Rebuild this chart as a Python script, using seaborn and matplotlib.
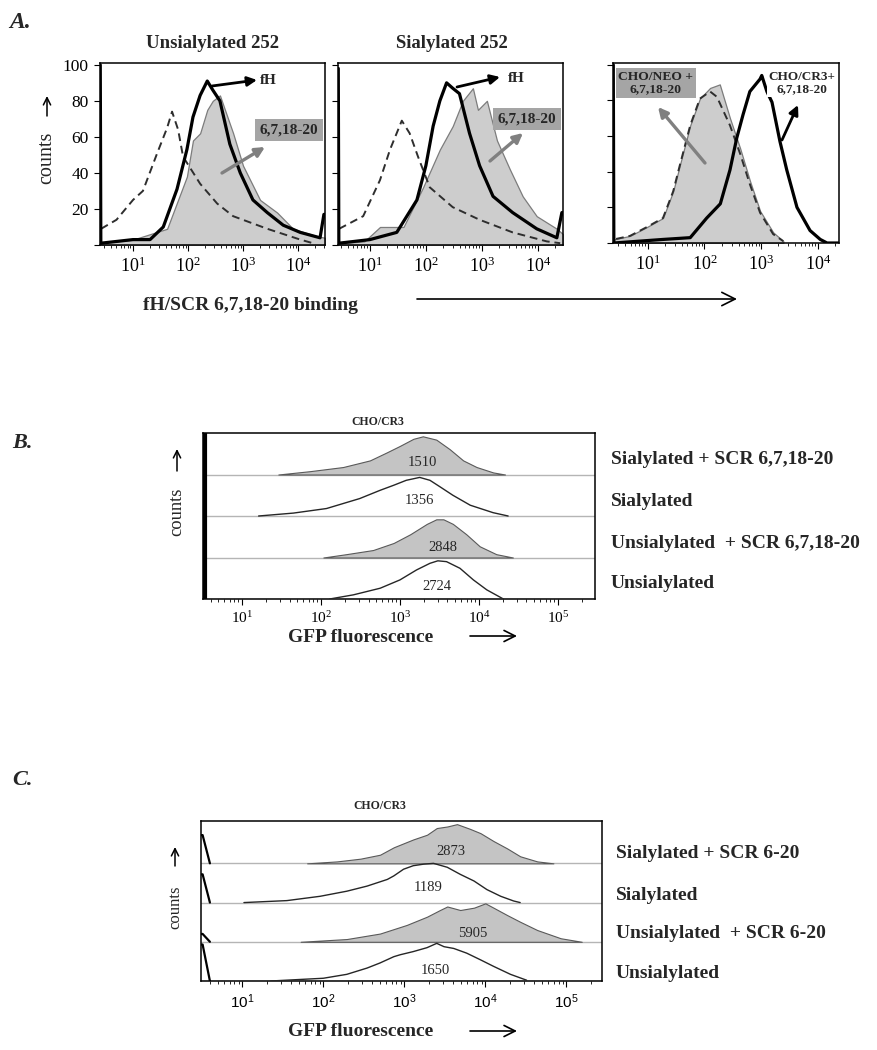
import numpy as np
import matplotlib
matplotlib.use("Agg")
import matplotlib.pyplot as plt
import seaborn as sns
from matplotlib.ticker import LogLocator, NullFormatter

W, H = 877, 1050

# ---------------- Panel A : histograms (log10 fluorescence, counts) ----------------
# Unsialylated 252
a1_ctrl_log = [0.42, 0.7, 1.0, 1.18, 1.44, 1.62, 1.71, 1.82, 1.91, 2.22, 2.53, 2.82, 3.44, 4.04, 4.27]
a1_ctrl_cnt = [9, 14, 25, 30, 51, 65, 74, 64, 49, 34, 23, 16, 9, 3, 1]
a1_fh_log = [0.405, 0.415, 1.0, 1.31, 1.55, 1.8, 1.98, 2.09, 2.22, 2.35, 2.45, 2.58, 2.76, 2.95,
             3.18, 3.44, 3.73, 4.04, 4.40, 4.47, 4.49]
a1_fh_cnt = [100, 1, 3, 3, 10, 31, 53, 71, 83, 91, 86, 80, 56, 40, 25, 18, 11, 7, 4, 17, 17]
a1_scr_log = [0.42, 1.0, 1.62, 1.98, 2.09, 2.22, 2.35, 2.45, 2.58, 2.82, 3.0, 3.31, 3.62, 3.91, 4.33, 4.49]
a1_scr_cnt = [1, 3, 9, 38, 58, 62, 75, 80, 83, 62, 44, 25, 18, 9, 5, 4]

# Sialylated 252
a2_ctrl_log = [0.45, 0.88, 1.18, 1.36, 1.57, 1.71, 1.86, 2.07, 2.48, 2.96, 3.55, 4.16, 4.4]
a2_ctrl_cnt = [9, 16, 36, 53, 69, 62, 49, 32, 21, 14, 7, 2, 1]
a2_fh_log = [0.435, 0.445, 1.0, 1.48, 1.84, 2.0, 2.13, 2.25, 2.37, 2.48, 2.6, 2.78, 2.96, 3.2,
             3.55, 3.98, 4.34, 4.43, 4.45]
a2_fh_cnt = [98, 1, 3, 7, 25, 44, 66, 80, 90, 87, 84, 62, 44, 27, 18, 9, 4, 18, 18]
a2_scr_log = [0.45, 0.9, 1.18, 1.6, 1.95, 2.25, 2.48, 2.66, 2.84, 2.93, 3.09, 3.27, 3.5, 3.73, 3.98, 4.34, 4.45]
a2_scr_cnt = [1, 2, 10, 10, 32, 53, 66, 80, 87, 75, 80, 58, 42, 27, 16, 9, 6]

# CHO/NEO vs CHO/CR3
a3_ctrl_log = [0.395, 0.405, 0.69, 0.99, 1.27, 1.45, 1.57, 1.75, 1.92, 2.1, 2.22, 2.45, 2.63, 2.8, 2.98, 3.21, 3.39]
a3_ctrl_cnt = [100, 2, 4, 9, 14, 29, 44, 66, 81, 85, 82, 66, 50, 33, 17, 5, 1]
a3_scr_log = [0.40, 0.69, 0.99, 1.27, 1.45, 1.57, 1.75, 1.92, 2.1, 2.27, 2.45, 2.63, 2.8, 2.98, 3.21, 3.39]
a3_scr_cnt = [2, 4, 9, 14, 29, 44, 66, 81, 87, 89, 70, 53, 35, 18, 6, 1]
a3_cr3_log = [0.395, 0.405, 1.27, 1.75, 2.04, 2.28, 2.45, 2.57, 2.68, 2.8, 2.98, 3.01, 3.1, 3.19,
              3.33, 3.45, 3.63, 3.86, 4.04, 4.16, 4.37]
a3_cr3_cnt = [100, 0, 2, 3, 14, 22, 41, 59, 72, 85, 92, 94, 85, 79, 57, 41, 20, 7, 2, 0, 0]

# ---------------- Panel B : CHO/CR3 GFP, SCR 6,7,18-20 (relative counts per row) ----------------
b_labels = ["Sialylated + SCR 6,7,18-20", "Sialylated", "Unsialylated  + SCR 6,7,18-20", "Unsialylated"]
b_means = ["1510", "1356", "2848", "2724"]
b_filled = [True, False, True, False]
b1_log = [1.46, 1.86, 2.28, 2.62, 2.83, 3.0, 3.17, 3.29, 3.46, 3.63, 3.8, 3.97, 4.18, 4.33]
b1_rel = [0.0, 0.08, 0.18, 0.34, 0.53, 0.69, 0.86, 0.92, 0.84, 0.61, 0.34, 0.18, 0.05, 0.0]
b2_log = [1.21, 1.65, 2.07, 2.49, 2.75, 2.92, 3.08, 3.25, 3.38, 3.51, 3.67, 3.89, 4.18, 4.37]
b2_rel = [0.0, 0.07, 0.18, 0.42, 0.62, 0.74, 0.86, 0.93, 0.86, 0.70, 0.50, 0.26, 0.08, 0.0]
b3_log = [2.03, 2.32, 2.66, 2.92, 3.13, 3.34, 3.46, 3.55, 3.67, 3.84, 4.01, 4.22, 4.43]
b3_rel = [0.0, 0.08, 0.18, 0.35, 0.56, 0.81, 0.92, 0.92, 0.81, 0.56, 0.27, 0.08, 0.0]
b4_log = [2.11, 2.41, 2.75, 3.0, 3.21, 3.38, 3.48, 3.59, 3.76, 3.93, 4.1, 4.31]
b4_rel = [0.0, 0.10, 0.26, 0.46, 0.70, 0.86, 0.92, 0.90, 0.74, 0.46, 0.22, 0.0]
b_spike_log = 0.535
b_spike_rel = [1.0, 1.0, 1.0, 1.0]

# ---------------- Panel C : CHO/CR3 GFP, SCR 6-20 ----------------
c_labels = ["Sialylated + SCR 6-20", "Sialylated", "Unsialylated  + SCR 6-20", "Unsialylated"]
c_means = ["2873", "1189", "5905", "1650"]
c_filled = [True, False, True, False]
c1_log = [1.80, 2.17, 2.46, 2.70, 2.87, 3.11, 3.28, 3.40, 3.53, 3.65, 3.81, 3.94, 4.10, 4.27, 4.43, 4.64, 4.84]
c1_rel = [0.0, 0.05, 0.12, 0.22, 0.41, 0.61, 0.73, 0.90, 0.94, 1.0, 0.88, 0.77, 0.57, 0.38, 0.18, 0.05, 0.0]
c2_log = [1.02, 1.55, 1.96, 2.29, 2.54, 2.79, 2.87, 2.99, 3.11, 3.24, 3.36, 3.53, 3.69, 3.86, 4.02, 4.19, 4.35, 4.43]
c2_rel = [0.0, 0.05, 0.16, 0.29, 0.42, 0.59, 0.68, 0.85, 0.94, 0.98, 1.0, 0.9, 0.72, 0.55, 0.33, 0.16, 0.04, 0.0]
c3_log = [1.72, 2.29, 2.70, 3.03, 3.28, 3.44, 3.53, 3.69, 3.86, 4.0, 4.10, 4.27, 4.43, 4.64, 4.93, 5.19]
c3_rel = [0.0, 0.07, 0.21, 0.43, 0.64, 0.81, 0.90, 0.81, 0.87, 0.98, 0.87, 0.68, 0.51, 0.30, 0.09, 0.0]
c4_log = [1.35, 2.0, 2.29, 2.54, 2.70, 2.87, 2.95, 3.11, 3.28, 3.40, 3.49, 3.61, 3.77, 3.94, 4.10, 4.31, 4.51]
c4_rel = [0.0, 0.07, 0.17, 0.33, 0.46, 0.62, 0.67, 0.75, 0.85, 0.96, 0.875, 0.83, 0.71, 0.54, 0.375, 0.17, 0.02]
c_spike_log = [0.49, 0.51, 0.60]
c_spike_rel = [0.72, 0.72, 0.2, 0.93]

# ---------------- style ----------------
sns.set_style("ticks")
plt.rcParams['font.family'] = ['Liberation Serif', 'DejaVu Sans']
plt.rcParams['mathtext.fontset'] = 'custom'
plt.rcParams['mathtext.rm'] = 'Liberation Serif'
plt.rcParams['mathtext.sf'] = 'Liberation Sans'
plt.rcParams['axes.edgecolor'] = 'black'
plt.rcParams['xtick.color'] = 'black'
plt.rcParams['ytick.color'] = 'black'

fig = plt.figure(figsize=(W / 100, H / 100), dpi=100)


def box(x0, y0, x1, y1):
    return [x0 / W, 1 - y1 / H, (x1 - x0) / W, (y1 - y0) / H]


def fp(x, y):
    return (x / W, 1 - y / H)


def arrow(ax, x0, y0, x1, y1, color='black', lw=2.0, style='-|>', ms=14):
    ax.annotate('', xy=fp(x1, y1), xytext=fp(x0, y0), xycoords='figure fraction',
                textcoords='figure fraction',
                arrowprops=dict(arrowstyle=style, color=color, lw=lw, mutation_scale=ms,
                                shrinkA=0, shrinkB=0))


def log_axis(ax, lo, hi, decades, fmt, size):
    ax.set_xscale('log')
    ax.set_xlim(10 ** lo, 10 ** hi)
    ax.set_xticks([10.0 ** k for k in decades])
    ax.set_xticklabels([fmt % k for k in decades])
    ax.xaxis.set_minor_locator(LogLocator(base=10, subs=np.arange(2, 10), numticks=30))
    ax.xaxis.set_minor_formatter(NullFormatter())
    ax.tick_params(axis='x', which='major', direction='out', length=4, width=0.8, labelsize=size, pad=4)
    ax.tick_params(axis='x', which='minor', direction='out', length=2.5, width=0.6)
    for s in ax.spines.values():
        s.set_linewidth(1.1)


def panel_a(ax, lo, hi, scr_log, scr_cnt, ctrl_log, ctrl_cnt, line_log, line_cnt, ylab):
    xs = 10 ** np.array(scr_log)
    ax.fill_between(xs, scr_cnt, color='#cdcdcd', edgecolor='#7c7c7c', lw=0.9, zorder=1)
    sns.lineplot(x=10 ** np.array(ctrl_log), y=ctrl_cnt, ax=ax, color='#2e2e2e', lw=1.4,
                 linestyle=(0, (4, 2.5)), estimator=None, sort=False, zorder=2)
    sns.lineplot(x=10 ** np.array(line_log), y=line_cnt, ax=ax, color='black', lw=2.3,
                 estimator=None, sort=False, zorder=3)
    log_axis(ax, lo, hi, [1, 2, 3, 4], r'$\mathrm{10^{%d}}$', 13)
    ax.set_ylim(0, 101)
    ax.set_yticks(range(0, 101, 20))
    if ylab:
        ax.set_yticklabels(['', '20', '40', '60', '80', '100'])
    else:
        ax.set_yticklabels([])
    ax.tick_params(axis='y', direction='out', length=4, width=0.8, labelsize=12.5, pad=4)
    ax.set_xlabel('')
    ax.set_ylabel('')


# ---------------- Panel A ----------------
ax1 = fig.add_axes(box(100, 63, 325, 245))
panel_a(ax1, 0.40, 4.49, a1_scr_log, a1_scr_cnt, a1_ctrl_log, a1_ctrl_cnt, a1_fh_log, a1_fh_cnt, True)
ax2 = fig.add_axes(box(338, 63, 563, 245))
panel_a(ax2, 0.43, 4.45, a2_scr_log, a2_scr_cnt, a2_ctrl_log, a2_ctrl_cnt, a2_fh_log, a2_fh_cnt, False)
ax3 = fig.add_axes(box(613, 63, 839, 243))
panel_a(ax3, 0.39, 4.37, a3_scr_log, a3_scr_cnt, a3_ctrl_log, a3_ctrl_cnt, a3_cr3_log, a3_cr3_cnt, False)

fig.text(*fp(20, 22), 'A.', fontsize=17, fontweight='bold', style='italic', ha='center', va='center')
fig.text(*fp(213, 43), 'Unsialylated 252', fontsize=13.5, fontweight='bold', ha='center', va='center')
fig.text(*fp(452, 43), 'Sialylated 252', fontsize=13.5, fontweight='bold', ha='center', va='center')
fig.text(*fp(47, 158), 'counts', fontsize=14.5, rotation=90, ha='center', va='center')
arrow(ax1, 47, 116, 47, 96, lw=1.1, style='->', ms=13)
fig.text(*fp(143, 305), 'fH/SCR 6,7,18-20 binding', fontsize=14, fontweight='bold', ha='left', va='center')
arrow(ax1, 417, 299, 737, 299, lw=1.2, style='->', ms=24)

# annotations inside panel A
arrow(ax1, 212, 86, 257, 80)
fig.text(*fp(260, 80), 'fH', fontsize=11, fontweight='bold', ha='left', va='center')
arrow(ax1, 222, 173, 265, 147, color='#808080', lw=2.4)
fig.text(*fp(289, 130), '6,7,18-20', fontsize=11, fontweight='bold', ha='center', va='center',
         bbox=dict(boxstyle='square,pad=0.3', fc='#a5a5a5', ec='none'))

arrow(ax2, 457, 87, 500, 77)
fig.text(*fp(508, 78), 'fH', fontsize=11, fontweight='bold', ha='left', va='center')
arrow(ax2, 490, 161, 523, 133, color='#808080', lw=2.4)
fig.text(*fp(527, 119), '6,7,18-20', fontsize=11, fontweight='bold', ha='center', va='center',
         bbox=dict(boxstyle='square,pad=0.3', fc='#a5a5a5', ec='none'))

arrow(ax3, 705, 163, 658, 107, color='#808080', lw=2.4)
fig.text(*fp(656, 83), 'CHO/NEO +\n6,7,18-20', fontsize=9.7, fontweight='bold', ha='center', va='center',
         linespacing=1.05, bbox=dict(boxstyle='square,pad=0.2', fc='#a5a5a5', ec='none'))
arrow(ax3, 782, 140, 798, 105)
fig.text(*fp(802, 83), 'CHO/CR3+\n6,7,18-20', fontsize=9.5, fontweight='bold', ha='center', va='center',
         linespacing=1.05, bbox=dict(boxstyle='square,pad=0.15', fc='white', ec='none'))


# ---------------- Panels B and C ----------------
def panel_stack(ax, lo, hi, top, rows_log, rows_rel, filled, means, mean_pos, spike, fmt, size):
    n = len(rows_log)
    for i in range(n):
        off = n - 1 - i
        xs = 10 ** np.array(rows_log[i])
        ys = off + np.array(rows_rel[i])
        ax.axhline(off, color='#b5b5b5', lw=1.0, zorder=1)
        if filled[i]:
            ax.fill_between(xs, off, ys, color='#c4c4c4', edgecolor='#595959', lw=0.8, zorder=2)
        else:
            sns.lineplot(x=xs, y=ys, ax=ax, color='#262626', lw=1.0, estimator=None, sort=False, zorder=3)
        spike(ax, off, i)
        mx, my = mean_pos[i]
        ax.text(10 ** mx, off + my, means[i], fontsize=size - 0.5, ha='center', va='center', zorder=4)
    log_axis(ax, lo, hi, [1, 2, 3, 4, 5], fmt, size)
    ax.set_ylim(0, top)
    ax.set_yticks([])
    ax.set_xlabel('')
    ax.set_ylabel('')


def b_spike(ax, off, i):
    ax.vlines(10 ** b_spike_log, off, off + b_spike_rel[i], color='black', lw=3, zorder=3)


def c_spike(ax, off, i):
    h = c_spike_rel[i]
    sns.lineplot(x=10 ** np.array(c_spike_log), y=off + np.array([h, h, 0]), ax=ax,
                 color='black', lw=1.6, estimator=None, sort=False, zorder=3)


axB = fig.add_axes(box(203, 433, 595, 599))
panel_stack(axB, 0.506, 5.47, 4.0, [b1_log, b2_log, b3_log, b4_log], [b1_rel, b2_rel, b3_rel, b4_rel],
            b_filled, b_means, [(3.29, 0.30), (3.25, 0.37), (3.54, 0.25), (3.47, 0.29)],
            b_spike, r'$\mathrm{10^{%d}}$', 11)
fig.text(*fp(22, 443), 'B.', fontsize=16, fontweight='bold', style='italic', ha='center', va='center')
fig.text(*fp(378, 422), 'CHO/CR3', fontsize=8.5, fontweight='bold', ha='center', va='center')
fig.text(*fp(177, 512), 'counts', fontsize=13.3, rotation=90, ha='center', va='center')
arrow(axB, 177, 471, 177, 449, lw=1.1, style='->', ms=13)
for lab, yy in zip(b_labels, [459, 501, 543, 584]):
    fig.text(*fp(611, yy), lab, fontsize=14, fontweight='bold', ha='left', va='center')
fig.text(*fp(288, 637), 'GFP fluorescence', fontsize=14, fontweight='bold', ha='left', va='center')
arrow(axB, 470, 636, 517, 636, lw=1.2, style='->', ms=20)

axC = fig.add_axes(box(201, 821, 602, 981))
panel_stack(axC, 0.49, 5.44, 4.08, [c1_log, c2_log, c3_log, c4_log], [c1_rel, c2_rel, c3_rel, c4_rel],
            c_filled, c_means, [(3.57, 0.31), (3.30, 0.38), (3.85, 0.20), (3.38, 0.27)],
            c_spike, r'$\mathsf{10^{%d}}$', 11)
fig.text(*fp(22, 780), 'C.', fontsize=16, fontweight='bold', style='italic', ha='center', va='center')
fig.text(*fp(380, 806), 'CHO/CR3', fontsize=8.5, fontweight='bold', ha='center', va='center')
fig.text(*fp(175, 907), 'counts', fontsize=12, rotation=90, ha='center', va='center')
arrow(axC, 175, 866, 175, 847, lw=1.1, style='->', ms=13)
for lab, yy in zip(c_labels, [853, 896, 933, 973]):
    fig.text(*fp(616, yy), lab, fontsize=14, fontweight='bold', ha='left', va='center')
fig.text(*fp(288, 1032), 'GFP fluorescence', fontsize=14, fontweight='bold', ha='left', va='center')
arrow(axC, 470, 1031, 517, 1031, lw=1.2, style='->', ms=20)

fig.savefig('out.png', dpi=100, facecolor='white')
